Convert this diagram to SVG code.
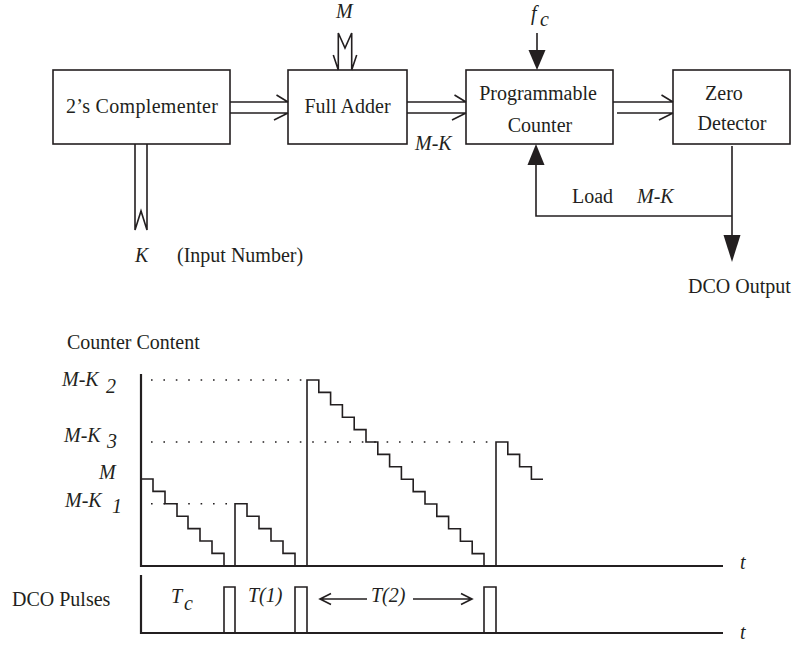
<svg xmlns="http://www.w3.org/2000/svg" width="797" height="646" viewBox="0 0 797 646">
<style>
text{font-family:"Liberation Serif","Times New Roman",serif;font-size:20px;fill:#231f20}
.i{font-style:italic}
.box{fill:#fff;stroke:#231f20;stroke-width:1.6}
.ln{fill:none;stroke:#231f20;stroke-width:1.6}
.ax{fill:none;stroke:#231f20;stroke-width:2.2}
.dot{fill:none;stroke:#231f20;stroke-width:1.6;stroke-dasharray:1.6 10.8}
.tri{fill:#231f20;stroke:none}
</style>
<g id="complementer"><rect class="box" x="53" y="70" width="177" height="74"/><text x="142" y="113" text-anchor="middle" textLength="152">2’s Complementer</text></g>
<g id="fulladder"><rect class="box" x="288" y="70" width="119" height="74"/><text x="347.5" y="113" text-anchor="middle">Full Adder</text></g>
<g id="counter"><rect class="box" x="466" y="70" width="147" height="74"/><text x="538" y="100" text-anchor="middle">Programmable</text><text x="540" y="132" text-anchor="middle">Counter</text></g>
<g id="zerodetector"><rect class="box" x="673" y="70" width="117" height="74"/><text x="724" y="100" text-anchor="middle">Zero</text><text x="732" y="130" text-anchor="middle">Detector</text></g>
<g id="connectors">
<path class="ln" d="M230,102 H288 M276.5,95 L288,102 M230,113 H288 M274,120 L288,113"/>
<path class="ln" d="M407,102 H466 M454.5,95 L466,102 M407,113 H466 M452,120 L466,113"/>
<path class="ln" d="M613,102 H673 M661.5,95 L673,102 M617,113 H673 M659,120 L673,113"/>
<path class="ln" d="M338.3,70 V33 L345,48 L351.7,33 V70 M333.3,55 L338.3,70 M356.7,55 L351.7,70"/>
<path class="ln" d="M135,144 V230 L141,211 L147,230 V144"/>
<path class="ln" d="M537,33 V52"/>
<path class="tri" d="M528.5,50 L545.5,50 L537,70 Z"/>
<path class="ln" d="M732,146 V238 M732,216 H536 V162"/>
<path class="tri" d="M527.5,165 L544.5,165 L536,144 Z"/>
<path class="tri" d="M723.5,235 L740.5,235 L732,262 Z"/>
</g>
<g id="labels-top">
<text class="i" x="336" y="18">M</text>
<text class="i" x="531" y="20">f</text><text class="i" x="540" y="26" font-size="17">c</text>
<text class="i" x="415" y="150">M-K</text>
<text x="572" y="203">Load</text><text class="i" x="637" y="203">M-K</text>
<text x="688" y="293">DCO Output</text>
<text class="i" x="135" y="262">K</text><text x="177" y="262">(Input Number)</text>
</g>
<g id="chart">
<text x="67" y="349">Counter Content</text>
<text class="i" x="62" y="386">M-K</text><text class="i" x="106" y="393">2</text>
<text class="i" x="64" y="442">M-K</text><text class="i" x="107" y="448">3</text>
<text class="i" x="99" y="479">M</text>
<text class="i" x="65" y="507">M-K</text><text class="i" x="112" y="513">1</text>
<path class="dot" d="M151,380 H305 M151,442 H492 M151,503.8 H234"/>
<path class="ax" d="M141,374 V566 H723"/>
<text class="i" x="740" y="569">t</text>
<path class="ln" d="M141,479 H153 V491.4 H165 V503.8 H177 V516.2 H188 V528.6 H200 V541 H212 V553.4 H224 V566"/>
<path class="ln" d="M235,566 V503.8 H247 V516.2 H259 V528.6 H271 V541 H283 V553.4 H295 V566"/>
<path class="ln" d="M307,566 V380 H318.8 V392.4 H330.6 V404.8 H342.4 V417.2 H354.2 V429.6 H366 V442 H377.8 V454.4 H389.6 V466.8 H401.4 V479.2 H413.2 V491.6 H425 V504 H436.8 V516.4 H448.6 V528.8 H460.4 V541.2 H472.2 V553.6 H484 V566"/>
<path class="ln" d="M496,566 V442 H507.8 V454.4 H519.6 V466.8 H531.4 V479.2 H543"/>
</g>
<g id="pulses">
<text x="12" y="606">DCO Pulses</text>
<path class="ax" d="M141,575 V633 H723"/>
<text class="i" x="740" y="639">t</text>
<path class="ln" d="M224,633 V587 H235 V633 M295,633 V587 H307 V633 M484,633 V587 H496 V633"/>
<text class="i" x="171" y="603">T</text><text class="i" x="184" y="610" font-size="17">c</text>
<text class="i" x="248" y="602">T(1)</text>
<path class="ln" d="M320,599 H367 M331,593.5 L320,599 L331,604.5 M413,599 H472 M461,593.5 L472,599 L461,604.5"/>
<text class="i" x="371" y="602">T(2)</text>
</g>
</svg>
